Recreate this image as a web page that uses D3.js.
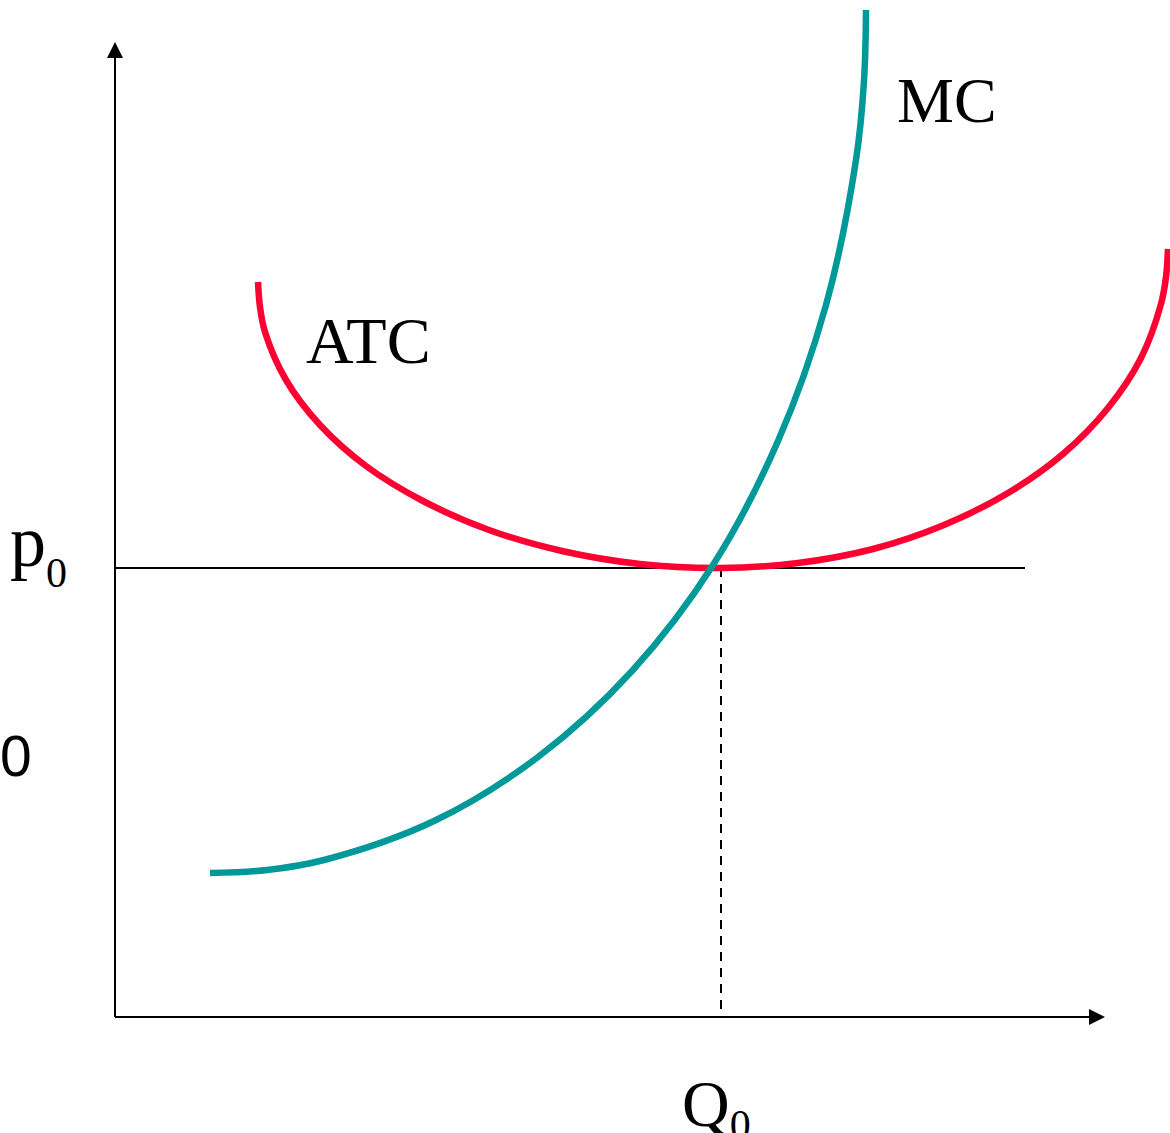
<!DOCTYPE html>
<html>
<head>
<meta charset="utf-8">
<script src="https://cdn.jsdelivr.net/npm/d3@7"></script>
<style>
  body { margin: 0; background: #fff; }
  svg { display: block; }
</style>
</head>
<body>
<svg id="chart" width="1170" height="1133"></svg>
<script>
// quantity / price (1 unit = 10px)
var mcQ = [9.5, 15.2, 20.9, 31.9, 42.3, 51.7, 59.8, 66.3, 71.1, 74.1, 74.9, 75.1];
var mcP = [14.4, 14.7, 15.7, 19.6, 26.0, 34.6, 45.2, 57.6, 71.2, 85.7, 93.6, 100.7];

var atcQ = [14.3, 14.5, 15.0, 17.1, 20.5, 25.1, 30.8, 37.4, 44.7, 52.5, 60.5,
            68.3, 75.8, 82.9, 89.3, 94.8, 99.3, 102.6, 104.6, 105.1, 105.3];
var atcP = [73.5, 71.0, 68.5, 63.7, 59.2, 55.1, 51.6, 48.7, 46.6, 45.3, 44.9,
            45.4, 46.8, 49.2, 52.4, 56.3, 60.9, 65.9, 71.3, 74.0, 76.8];

var p0 = 44.9;       // equilibrium price
var q0 = 60.6;       // equilibrium quantity
var p0LineEnd = 91;  // horizontal price line ends here

var svg = d3.select("#chart");

// scales
var x = d3.scaleLinear().domain([0, 99]).range([115, 1105]);
var y = d3.scaleLinear().domain([0, 97.5]).range([1017, 42]);

var line = d3.line()
    .x(d => x(d[0]))
    .y(d => y(d[1]))
    .curve(d3.curveCatmullRom.alpha(0.5));

// axes with arrowheads
var x0 = x(0), y0 = y(0), xEnd = x.range()[1], yEnd = y.range()[1];
svg.append("line")
    .attr("x1", x0).attr("y1", y0).attr("x2", x0).attr("y2", yEnd + 10)
    .attr("stroke", "#000").attr("stroke-width", 2);
svg.append("line")
    .attr("x1", x0).attr("y1", y0).attr("x2", xEnd - 10).attr("y2", y0)
    .attr("stroke", "#000").attr("stroke-width", 2);
svg.append("path")
    .attr("d", `M${x0},${yEnd} L${x0 - 8},${yEnd + 16} L${x0 + 8},${yEnd + 16} Z`)
    .attr("fill", "#000");
svg.append("path")
    .attr("d", `M${xEnd},${y0} L${xEnd - 16},${y0 - 8} L${xEnd - 16},${y0 + 8} Z`)
    .attr("fill", "#000");

// p0 horizontal line
svg.append("line")
    .attr("x1", x0).attr("y1", y(p0)).attr("x2", x(p0LineEnd)).attr("y2", y(p0))
    .attr("stroke", "#000").attr("stroke-width", 2);

// Q0 dashed line
svg.append("line")
    .attr("x1", x(q0)).attr("y1", y(p0)).attr("x2", x(q0)).attr("y2", y0)
    .attr("stroke", "#000").attr("stroke-width", 2)
    .attr("stroke-dasharray", "9,7");

// curves
svg.append("path")
    .datum(d3.zip(atcQ, atcP))
    .attr("d", line)
    .attr("fill", "none")
    .attr("stroke", "#ff0033")
    .attr("stroke-width", 6.5);

svg.append("path")
    .datum(d3.zip(mcQ, mcP))
    .attr("d", line)
    .attr("fill", "none")
    .attr("stroke", "#009999")
    .attr("stroke-width", 6.5);

// labels
var serif = "'Liberation Serif', 'Times New Roman', serif";

svg.append("text").attr("x", 897).attr("y", 122)
    .attr("font-family", serif).attr("font-size", 64).text("MC");
svg.append("text").attr("x", 306).attr("y", 363)
    .attr("font-family", serif).attr("font-size", 66).text("ATC");

var pLab = svg.append("text").attr("x", 10).attr("y", 566)
    .attr("font-family", serif).attr("font-size", 72);
pLab.append("tspan").text("p");
pLab.append("tspan").attr("font-size", 42).attr("dy", 21).text("0");

var qLab = svg.append("text").attr("x", 682).attr("y", 1126)
    .attr("font-family", serif).attr("font-size", 66);
qLab.append("tspan").text("Q");
qLab.append("tspan").attr("font-size", 42).attr("dy", 13).text("0");

svg.append("text").attr("x", 0).attr("y", 776)
    .attr("font-family", "'Liberation Sans', Arial, sans-serif")
    .attr("font-size", 57).text("0");
</script>
</body>
</html>
